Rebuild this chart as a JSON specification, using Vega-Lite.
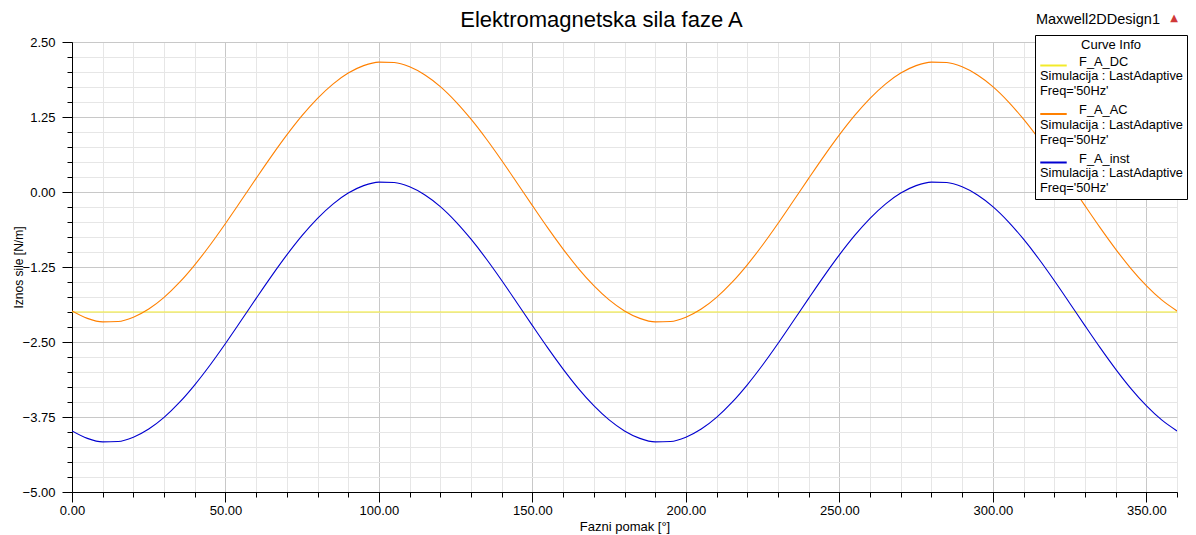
{
  "$schema": "https://vega.github.io/schema/vega-lite/v6.json",
  "width": 1105,
  "height": 450,
  "autosize": {"type": "none"},
  "padding": {"left": 72, "top": 42, "right": 19, "bottom": 43},
  "background": "white",
  "config": {
    "font": "Liberation Sans",
    "view": {"stroke": "#000000", "strokeWidth": 1},
    "legend": {
      "titleFont": "Liberation Sans",
      "titleFontSize": 13,
      "titleFontWeight": "normal",
      "titleAnchor": "middle",
      "titlePadding": -1,
      "padding": 4,
      "symbolType": "stroke",
      "symbolSize": 700,
      "symbolStrokeWidth": 2,
      "labelFont": "Liberation Sans",
      "labelFontSize": 12.8,
      "labelBaseline": "alphabetic",
      "labelOffset": -28,
      "rowPadding": 1.5,
      "labelLimit": 300
    }
  },
  "datasets": {
    "kriv": [
      {"x": 0, "F_A_DC": -2, "F_A_AC": -1.982, "F_A_inst": -3.982},
      {"x": 5, "F_A_DC": -2, "F_A_AC": -2.106, "F_A_inst": -4.106},
      {"x": 10, "F_A_DC": -2, "F_A_AC": -2.165, "F_A_inst": -4.165},
      {"x": 15, "F_A_DC": -2, "F_A_AC": -2.158, "F_A_inst": -4.158},
      {"x": 20, "F_A_DC": -2, "F_A_AC": -2.086, "F_A_inst": -4.086},
      {"x": 25, "F_A_DC": -2, "F_A_AC": -1.950, "F_A_inst": -3.950},
      {"x": 30, "F_A_DC": -2, "F_A_AC": -1.756, "F_A_inst": -3.756},
      {"x": 35, "F_A_DC": -2, "F_A_AC": -1.507, "F_A_inst": -3.507},
      {"x": 40, "F_A_DC": -2, "F_A_AC": -1.213, "F_A_inst": -3.213},
      {"x": 45, "F_A_DC": -2, "F_A_AC": -0.883, "F_A_inst": -2.883},
      {"x": 50, "F_A_DC": -2, "F_A_AC": -0.525, "F_A_inst": -2.525},
      {"x": 55, "F_A_DC": -2, "F_A_AC": -0.151, "F_A_inst": -2.151},
      {"x": 60, "F_A_DC": -2, "F_A_AC": 0.227, "F_A_inst": -1.773},
      {"x": 65, "F_A_DC": -2, "F_A_AC": 0.598, "F_A_inst": -1.402},
      {"x": 70, "F_A_DC": -2, "F_A_AC": 0.951, "F_A_inst": -1.049},
      {"x": 75, "F_A_DC": -2, "F_A_AC": 1.276, "F_A_inst": -0.724},
      {"x": 80, "F_A_DC": -2, "F_A_AC": 1.561, "F_A_inst": -0.439},
      {"x": 85, "F_A_DC": -2, "F_A_AC": 1.799, "F_A_inst": -0.201},
      {"x": 90, "F_A_DC": -2, "F_A_AC": 1.982, "F_A_inst": -0.018},
      {"x": 95, "F_A_DC": -2, "F_A_AC": 2.106, "F_A_inst": 0.106},
      {"x": 100, "F_A_DC": -2, "F_A_AC": 2.165, "F_A_inst": 0.165},
      {"x": 105, "F_A_DC": -2, "F_A_AC": 2.158, "F_A_inst": 0.158},
      {"x": 110, "F_A_DC": -2, "F_A_AC": 2.086, "F_A_inst": 0.086},
      {"x": 115, "F_A_DC": -2, "F_A_AC": 1.950, "F_A_inst": -0.050},
      {"x": 120, "F_A_DC": -2, "F_A_AC": 1.756, "F_A_inst": -0.244},
      {"x": 125, "F_A_DC": -2, "F_A_AC": 1.507, "F_A_inst": -0.493},
      {"x": 130, "F_A_DC": -2, "F_A_AC": 1.213, "F_A_inst": -0.787},
      {"x": 135, "F_A_DC": -2, "F_A_AC": 0.883, "F_A_inst": -1.117},
      {"x": 140, "F_A_DC": -2, "F_A_AC": 0.525, "F_A_inst": -1.475},
      {"x": 145, "F_A_DC": -2, "F_A_AC": 0.151, "F_A_inst": -1.849},
      {"x": 150, "F_A_DC": -2, "F_A_AC": -0.227, "F_A_inst": -2.227},
      {"x": 155, "F_A_DC": -2, "F_A_AC": -0.598, "F_A_inst": -2.598},
      {"x": 160, "F_A_DC": -2, "F_A_AC": -0.951, "F_A_inst": -2.951},
      {"x": 165, "F_A_DC": -2, "F_A_AC": -1.276, "F_A_inst": -3.276},
      {"x": 170, "F_A_DC": -2, "F_A_AC": -1.561, "F_A_inst": -3.561},
      {"x": 175, "F_A_DC": -2, "F_A_AC": -1.799, "F_A_inst": -3.799},
      {"x": 180, "F_A_DC": -2, "F_A_AC": -1.982, "F_A_inst": -3.982},
      {"x": 185, "F_A_DC": -2, "F_A_AC": -2.106, "F_A_inst": -4.106},
      {"x": 190, "F_A_DC": -2, "F_A_AC": -2.165, "F_A_inst": -4.165},
      {"x": 195, "F_A_DC": -2, "F_A_AC": -2.158, "F_A_inst": -4.158},
      {"x": 200, "F_A_DC": -2, "F_A_AC": -2.086, "F_A_inst": -4.086},
      {"x": 205, "F_A_DC": -2, "F_A_AC": -1.950, "F_A_inst": -3.950},
      {"x": 210, "F_A_DC": -2, "F_A_AC": -1.756, "F_A_inst": -3.756},
      {"x": 215, "F_A_DC": -2, "F_A_AC": -1.507, "F_A_inst": -3.507},
      {"x": 220, "F_A_DC": -2, "F_A_AC": -1.213, "F_A_inst": -3.213},
      {"x": 225, "F_A_DC": -2, "F_A_AC": -0.883, "F_A_inst": -2.883},
      {"x": 230, "F_A_DC": -2, "F_A_AC": -0.525, "F_A_inst": -2.525},
      {"x": 235, "F_A_DC": -2, "F_A_AC": -0.151, "F_A_inst": -2.151},
      {"x": 240, "F_A_DC": -2, "F_A_AC": 0.227, "F_A_inst": -1.773},
      {"x": 245, "F_A_DC": -2, "F_A_AC": 0.598, "F_A_inst": -1.402},
      {"x": 250, "F_A_DC": -2, "F_A_AC": 0.951, "F_A_inst": -1.049},
      {"x": 255, "F_A_DC": -2, "F_A_AC": 1.276, "F_A_inst": -0.724},
      {"x": 260, "F_A_DC": -2, "F_A_AC": 1.561, "F_A_inst": -0.439},
      {"x": 265, "F_A_DC": -2, "F_A_AC": 1.799, "F_A_inst": -0.201},
      {"x": 270, "F_A_DC": -2, "F_A_AC": 1.982, "F_A_inst": -0.018},
      {"x": 275, "F_A_DC": -2, "F_A_AC": 2.106, "F_A_inst": 0.106},
      {"x": 280, "F_A_DC": -2, "F_A_AC": 2.165, "F_A_inst": 0.165},
      {"x": 285, "F_A_DC": -2, "F_A_AC": 2.158, "F_A_inst": 0.158},
      {"x": 290, "F_A_DC": -2, "F_A_AC": 2.086, "F_A_inst": 0.086},
      {"x": 295, "F_A_DC": -2, "F_A_AC": 1.950, "F_A_inst": -0.050},
      {"x": 300, "F_A_DC": -2, "F_A_AC": 1.756, "F_A_inst": -0.244},
      {"x": 305, "F_A_DC": -2, "F_A_AC": 1.507, "F_A_inst": -0.493},
      {"x": 310, "F_A_DC": -2, "F_A_AC": 1.213, "F_A_inst": -0.787},
      {"x": 315, "F_A_DC": -2, "F_A_AC": 0.883, "F_A_inst": -1.117},
      {"x": 320, "F_A_DC": -2, "F_A_AC": 0.525, "F_A_inst": -1.475},
      {"x": 325, "F_A_DC": -2, "F_A_AC": 0.151, "F_A_inst": -1.849},
      {"x": 330, "F_A_DC": -2, "F_A_AC": -0.227, "F_A_inst": -2.227},
      {"x": 335, "F_A_DC": -2, "F_A_AC": -0.598, "F_A_inst": -2.598},
      {"x": 340, "F_A_DC": -2, "F_A_AC": -0.951, "F_A_inst": -2.951},
      {"x": 345, "F_A_DC": -2, "F_A_AC": -1.276, "F_A_inst": -3.276},
      {"x": 350, "F_A_DC": -2, "F_A_AC": -1.561, "F_A_inst": -3.561},
      {"x": 355, "F_A_DC": -2, "F_A_AC": -1.799, "F_A_inst": -3.799},
      {"x": 360, "F_A_DC": -2, "F_A_AC": -1.982, "F_A_inst": -3.982}
    ]
  },
  "layer": [
    {
      "data": {"name": "kriv"},
      "transform": [{"fold": ["F_A_DC", "F_A_AC", "F_A_inst"], "as": ["krivulja", "vrijednost"]}],
      "mark": {"type": "line", "strokeWidth": 1.1, "interpolate": "monotone", "clip": true},
      "encoding": {
        "x": {
          "field": "x",
          "type": "quantitative",
          "scale": {"domain": [0, 360], "nice": false, "zero": false},
          "axis": {
            "title": "Fazni pomak [°]",
            "titleFont": "Liberation Sans",
            "titleFontSize": 13,
            "titleFontWeight": "normal",
            "titleColor": "#000000",
            "titlePadding": 3,
            "tickCount": 200,
            "values": [0, 10, 20, 30, 40, 50, 60, 70, 80, 90, 100, 110, 120, 130, 140, 150, 160, 170, 180, 190, 200, 210, 220, 230, 240, 250, 260, 270, 280, 290, 300, 310, 320, 330, 340, 350, 360],
            "labelExpr": "datum.value % 50 === 0 ? format(datum.value, '.2f') : ''",
            "labelOverlap": false,
            "labelFlush": false,
            "labelFont": "Liberation Sans",
            "labelFontSize": 13,
            "labelColor": "#000000",
            "labelPadding": 2,
            "domainColor": "#000000",
            "tickColor": "#000000",
            "tickSize": {"condition": {"test": "datum.value % 50 === 0", "value": 10}, "value": 5},
            "grid": true,
            "gridColor": {"condition": {"test": "datum.value % 50 === 0", "value": "#c8c8c8"}, "value": "#e6e6e6"},
            "gridWidth": 1
          }
        },
        "y": {
          "field": "vrijednost",
          "type": "quantitative",
          "scale": {"domain": [-5, 2.5], "nice": false, "zero": false},
          "axis": {
            "title": "Iznos sile [N/m]",
            "titleFont": "Liberation Sans",
            "titleFontSize": 12,
            "titleFontWeight": "normal",
            "titleColor": "#000000",
            "titlePadding": -3,
            "tickCount": 200,
            "values": [-5, -4.75, -4.5, -4.25, -4, -3.75, -3.5, -3.25, -3, -2.75, -2.5, -2.25, -2, -1.75, -1.5, -1.25, -1, -0.75, -0.5, -0.25, 0, 0.25, 0.5, 0.75, 1, 1.25, 1.5, 1.75, 2, 2.25, 2.5],
            "labelExpr": "abs(datum.value / 1.25 - round(datum.value / 1.25)) < 0.001 ? format(datum.value, '.2f') : ''",
            "labelOverlap": false,
            "labelFlush": false,
            "labelFont": "Liberation Sans",
            "labelFontSize": 13,
            "labelColor": "#000000",
            "labelPadding": 7,
            "domainColor": "#000000",
            "tickColor": "#000000",
            "tickSize": {"condition": {"test": "abs(datum.value / 1.25 - round(datum.value / 1.25)) < 0.001", "value": 10}, "value": 5},
            "grid": true,
            "gridColor": {"condition": {"test": "abs(datum.value / 1.25 - round(datum.value / 1.25)) < 0.001", "value": "#c8c8c8"}, "value": "#e6e6e6"},
            "gridWidth": 1
          }
        },
        "stroke": {
          "field": "krivulja",
          "type": "nominal",
          "sort": ["F_A_DC", "F_A_AC", "F_A_inst"],
          "scale": {"domain": ["F_A_DC", "F_A_AC", "F_A_inst"], "range": ["#f2ea2a", "#ff8000", "#0000d0"]},
          "legend": {
            "orient": "none",
            "legendX": 963,
            "legendY": -7,
            "title": "Curve Info",
            "fillColor": "#ffffff",
            "strokeColor": "#000000",
            "titleColor": "#000000",
            "labelColor": "#000000",
            "labelExpr": "['\u2060\u00a0\u00a0\u00a0\u00a0\u00a0\u00a0\u00a0\u00a0\u00a0\u00a0\u00a0' + datum.label, 'Simulacija : LastAdaptive', \"Freq='50Hz'\"]"
          }
        }
      }
    },
    {
      "data": {"values": [{"tekst": "Elektromagnetska sila faze A"}]},
      "mark": {"type": "text", "align": "center", "baseline": "alphabetic", "dx": -23, "dy": -15, "font": "Liberation Sans", "fontSize": 22, "color": "#000000"},
      "encoding": {
        "x": {"datum": 180},
        "y": {"datum": 2.5},
        "text": {"field": "tekst"}
      }
    },
    {
      "data": {"values": [{"tekst": "Maxwell2DDesign1"}]},
      "mark": {"type": "text", "align": "right", "baseline": "alphabetic", "dx": -17, "dy": -18, "font": "Liberation Sans", "fontSize": 14.5, "color": "#000000"},
      "encoding": {
        "x": {"datum": 360},
        "y": {"datum": 2.5},
        "text": {"field": "tekst"}
      }
    },
    {
      "data": {"values": [{"tekst": "▲"}]},
      "mark": {"type": "text", "align": "center", "baseline": "alphabetic", "dx": -3, "dy": -21, "font": "DejaVu Sans", "fontSize": 10, "color": "#d03838"},
      "encoding": {
        "x": {"datum": 360},
        "y": {"datum": 2.5},
        "text": {"field": "tekst"}
      }
    }
  ]
}
